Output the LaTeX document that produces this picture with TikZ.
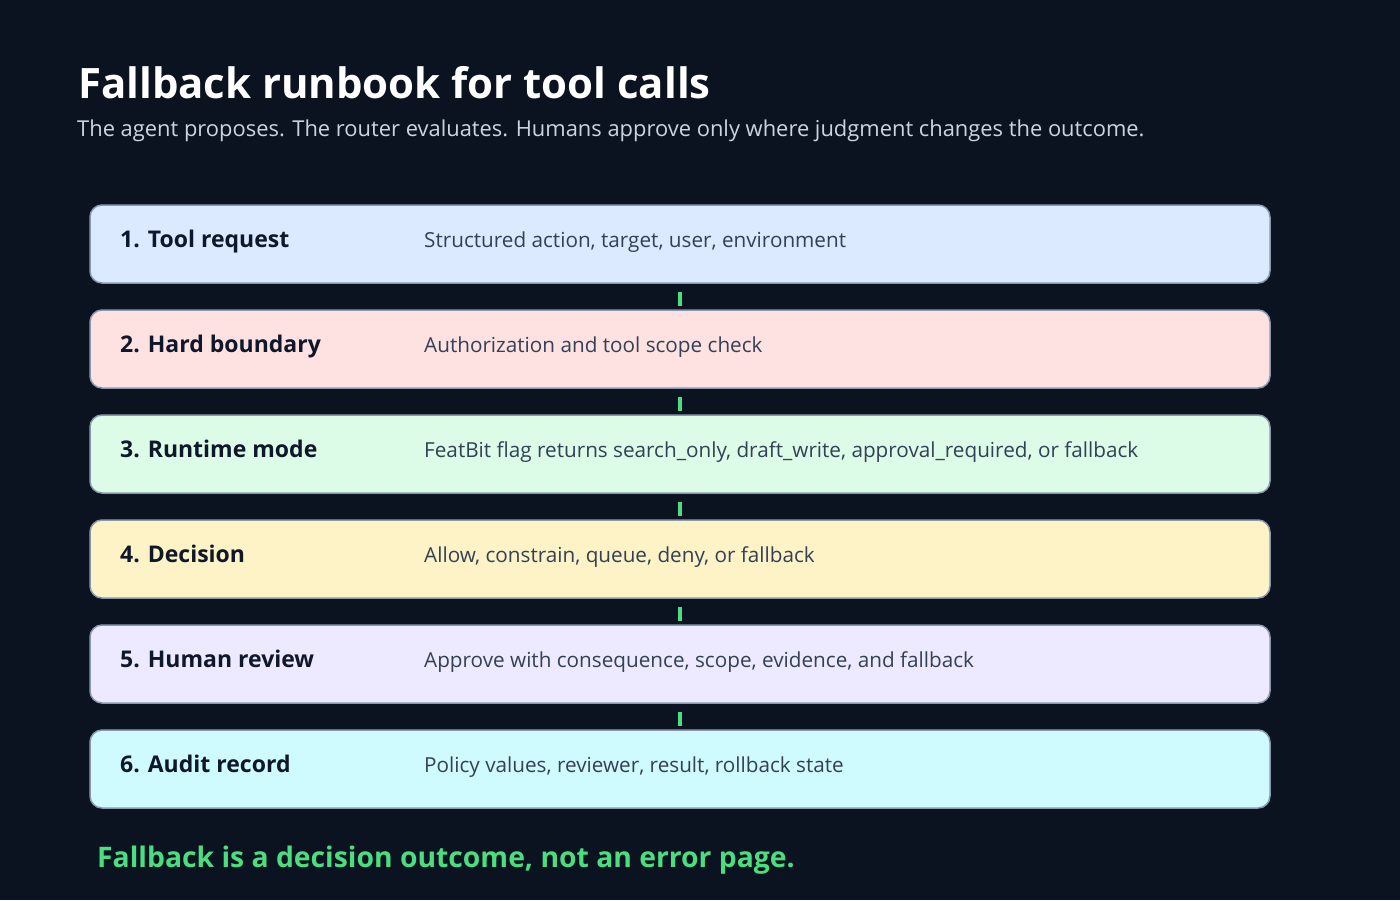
\documentclass[tikz,border=0pt]{standalone}
\usepackage{fontspec}
\setmainfont{Open Sans}
\definecolor{bgc}{HTML}{0B1220}
\definecolor{bordc}{HTML}{8A98AE}
\definecolor{labc}{HTML}{0F172A}
\definecolor{descc}{HTML}{334155}
\definecolor{subc}{HTML}{CBD5E1}
\definecolor{greenc}{HTML}{4ADE80}
\definecolor{c1}{HTML}{DBEAFE}
\definecolor{c2}{HTML}{FEE2E2}
\definecolor{c3}{HTML}{DCFCE7}
\definecolor{c4}{HTML}{FEF3C7}
\definecolor{c5}{HTML}{EDE9FE}
\definecolor{c6}{HTML}{CFFAFE}
\tikzset{
  stepbox/.style={draw=bordc, line width=1.5pt, rounded corners=12pt, minimum width=1180pt, minimum height=78pt, inner sep=0pt},
  steplabel/.style={anchor=base west, inner sep=0pt, text=labc, font=\fontsize{23}{27}\selectfont\bfseries},
  stepdesc/.style={anchor=base west, inner sep=0pt, text=descc, font=\fontsize{20.7}{25}\selectfont},
  conn/.style={draw=greenc, line width=4pt, shorten <=8pt, shorten >=3pt}
}
\begin{document}
\begin{tikzpicture}[x=1pt,y=-1pt]
\fill[bgc] (0,0) rectangle (1400,900);
\useasboundingbox (0,0) rectangle (1400,900);
\node[anchor=base west, inner sep=0pt, text=white, font=\fontsize{41.9}{50}\selectfont\bfseries] (title) at (78,98) {Fallback runbook for tool calls};
\node[anchor=base west, inner sep=0pt, text=subc, font=\fontsize{21.9}{26}\selectfont] (subtitle) at (77,136) {The agent proposes. The router evaluates. Humans approve only where judgment changes the outcome.};
\foreach \i/\col/\lab/\desc in {
  1/c1/{1. Tool request}/{Structured action, target, user, environment},
  2/c2/{2. Hard boundary}/{Authorization and tool scope check},
  3/c3/{3. Runtime mode}/{FeatBit flag returns search\_only, draft\_write, approval\_required, or fallback},
  4/c4/{4. Decision}/{Allow, constrain, queue, deny, or fallback},
  5/c5/{5. Human review}/{Approve with consequence, scope, evidence, and fallback},
  6/c6/{6. Audit record}/{Policy values, reviewer, result, rollback state}}{
  \node[stepbox, fill=\col] (s\i) at (680, {244+105*(\i-1)}) {};
  \node[steplabel] (l\i) at (120, {247+105*(\i-1)}) {\lab};
  \node[stepdesc] (d\i) at (424, {247+105*(\i-1)}) {\desc};
}
\foreach \i [evaluate=\i as \j using int(\i+1)] in {1,...,5}{
  \draw[conn] (s\i.south) -- (s\j.north);
}
\node[anchor=base west, inner sep=0pt, text=greenc, font=\fontsize{28.3}{33}\selectfont\bfseries] (footer) at (97,867) {Fallback is a decision outcome, not an error page.};
\end{tikzpicture}
\end{document}
